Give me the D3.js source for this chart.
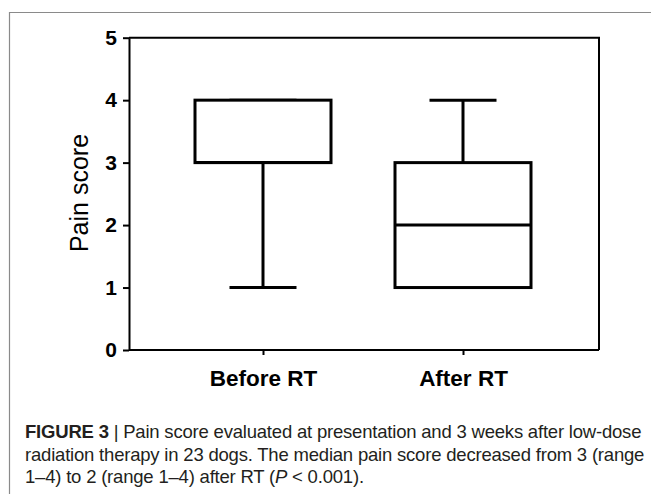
<!DOCTYPE html>
<html>
<head>
<meta charset="utf-8">
<script src="https://cdn.jsdelivr.net/npm/d3@7"></script>
<style>
  body { margin: 0; background: #fff; }
  svg { display: block; }
</style>
</head>
<body>
<div id="chart"></div>
<script>
// box plot values per group
var groups = ["Before RT", "After RT"];
var mins = [1, 1];
var q1s = [3, 1];
var medians = [3, 2];
var q3s = [4, 3];
var maxs = [4, 4];
var yTicks = [0, 1, 2, 3, 4, 5];
var yLabel = "Pain score";
var captionLines = [
    [{t: "FIGURE 3", b: true}, {t: " | Pain score evaluated at presentation and 3 weeks after low-dose"}],
    [{t: "radiation therapy in 23 dogs. The median pain score decreased from 3 (range"}],
    [{t: "1\u20134) to 2 (range 1\u20134) after RT ("}, {t: "P", i: true}, {t: " < 0.001)."}]
];

var width = 651, height = 494;
var margin = {top: 37.7, right: 52, bottom: 144, left: 129};

var svg = d3.select("#chart").append("svg")
    .attr("width", width)
    .attr("height", height);

// figure border (top + left)
svg.append("path")
    .attr("d", "M9.5," + height + "V12.5H" + width)
    .attr("fill", "none")
    .attr("stroke", "#8a8a8a")
    .attr("stroke-width", 1.2);

var plotW = width - margin.left - margin.right,
    plotH = height - margin.top - margin.bottom;

var g = svg.append("g")
    .attr("transform", "translate(" + margin.left + "," + margin.top + ")");

var y = d3.scaleLinear().domain([0, 5]).range([plotH, 0]);
var x = d3.scalePoint().domain(groups).range([134, 334]);
var boxW = 136, capW = 67;

// frame top + right
g.append("path")
    .attr("d", "M0," + y(5) + "H" + plotW + "V" + plotH)
    .attr("fill", "none")
    .attr("stroke", "#000")
    .attr("stroke-width", 2);

var yAxis = g.append("g")
    .call(d3.axisLeft(y).tickValues(yTicks).tickSize(6).tickSizeOuter(0).tickPadding(6).tickFormat(d3.format("d")));

var xAxis = g.append("g")
    .attr("transform", "translate(0," + plotH + ")")
    .call(d3.axisBottom(x).tickSize(5).tickSizeOuter(0).tickPadding(15));
xAxis.select(".domain").attr("d", "M0,0H" + plotW);

[yAxis, xAxis].forEach(function(a) {
    a.selectAll("path, line").attr("stroke", "#000").attr("stroke-width", 2);
    a.selectAll("text")
        .attr("fill", "#000")
        .style("font-family", "Liberation Sans, Arial, sans-serif")
        .style("font-weight", "bold");
});
yAxis.selectAll("text").style("font-size", "21px");
xAxis.selectAll("text").style("font-size", "22.5px");

g.append("text")
    .attr("transform", "translate(" + (88 - margin.left) + "," + (193 - margin.top) + ") rotate(-90)")
    .attr("text-anchor", "middle")
    .style("font-family", "Liberation Sans, Arial, sans-serif")
    .style("font-size", "25px")
    .text(yLabel);

// boxes
var data = groups.map(function(d, i) {
    return {name: d, min: mins[i], q1: q1s[i], med: medians[i], q3: q3s[i], max: maxs[i]};
});

var box = g.selectAll(".box")
    .data(data)
    .enter().append("g")
    .attr("class", "box")
    .attr("stroke", "#000")
    .attr("stroke-width", 3)
    .attr("fill", "none");

box.append("line")
    .attr("x1", function(d) { return x(d.name); })
    .attr("x2", function(d) { return x(d.name); })
    .attr("y1", function(d) { return y(d.max); })
    .attr("y2", function(d) { return y(d.q3); });
box.append("line")
    .attr("x1", function(d) { return x(d.name); })
    .attr("x2", function(d) { return x(d.name); })
    .attr("y1", function(d) { return y(d.q1); })
    .attr("y2", function(d) { return y(d.min); });
box.append("line")
    .attr("x1", function(d) { return x(d.name) - capW / 2; })
    .attr("x2", function(d) { return x(d.name) + capW / 2; })
    .attr("y1", function(d) { return y(d.max); })
    .attr("y2", function(d) { return y(d.max); });
box.append("line")
    .attr("x1", function(d) { return x(d.name) - capW / 2; })
    .attr("x2", function(d) { return x(d.name) + capW / 2; })
    .attr("y1", function(d) { return y(d.min); })
    .attr("y2", function(d) { return y(d.min); });
box.append("rect")
    .attr("x", function(d) { return x(d.name) - boxW / 2; })
    .attr("width", boxW)
    .attr("y", function(d) { return y(d.q3); })
    .attr("height", function(d) { return y(d.q1) - y(d.q3); })
    .attr("fill", "#fff");
box.append("line")
    .attr("x1", function(d) { return x(d.name) - boxW / 2; })
    .attr("x2", function(d) { return x(d.name) + boxW / 2; })
    .attr("y1", function(d) { return y(d.med); })
    .attr("y2", function(d) { return y(d.med); });

// caption
var cap = svg.append("g")
    .style("font-family", "Liberation Sans, Arial, sans-serif")
    .style("font-size", "18.5px")
    .style("letter-spacing", "-0.2px")
    .attr("fill", "#231f20");

captionLines.forEach(function(line, i) {
    var t = cap.append("text")
        .attr("x", 25)
        .attr("y", 438 + i * 22.5);
    line.forEach(function(s) {
        t.append("tspan")
            .style("font-weight", s.b ? "bold" : null)
            .style("font-style", s.i ? "italic" : null)
            .text(s.t);
    });
});
</script>
</body>
</html>
